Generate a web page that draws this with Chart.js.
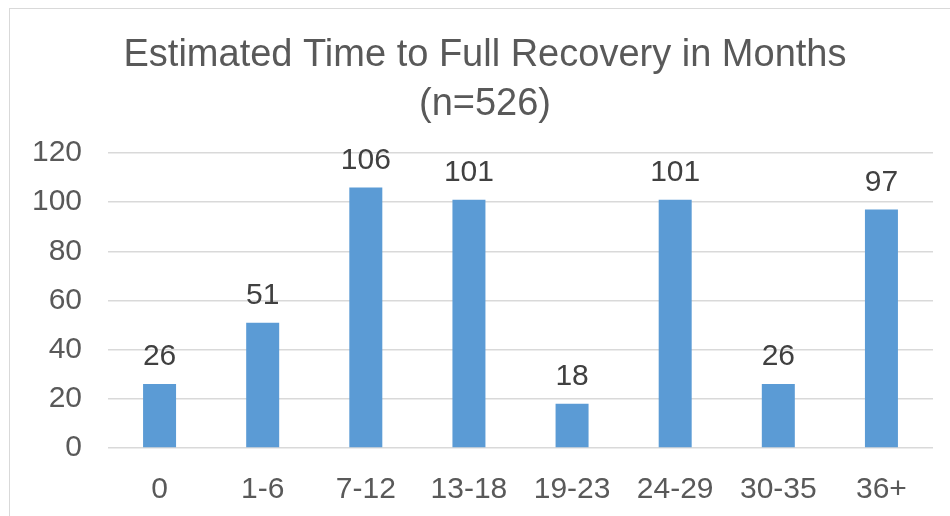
<!DOCTYPE html>
<html>
<head>
<meta charset="utf-8">
<script src="https://cdn.jsdelivr.net/npm/chart.js@4"></script>
<style>
  body { margin: 0; background: #fff; overflow: hidden; }
  #box { position: absolute; left: 9px; top: 8px; width: 950px; height: 520px; border: 1px solid #d9d9d9; }
</style>
</head>
<body>
<div id="box"><canvas id="myChart" width="950" height="520"></canvas></div>
<script>
const categories = ["0", "1-6", "7-12", "13-18", "19-23", "24-29", "30-35", "36+"];
const counts = [26, 51, 106, 101, 18, 101, 26, 97];
const titleLines = ["Estimated Time to Full Recovery in Months", "(n=526)"];

// values above the bars
const valueLabels = {
  id: "valueLabels",
  afterDatasetsDraw(chart) {
    const ctx = chart.ctx;
    const meta = chart.getDatasetMeta(0);
    ctx.save();
    ctx.font = "30px 'Liberation Sans', Arial, sans-serif";
    ctx.fillStyle = "#404040";
    ctx.textAlign = "center";
    ctx.textBaseline = "bottom";
    meta.data.forEach((bar, i) => {
      ctx.fillText(counts[i], bar.x, bar.y - 12);
    });
    ctx.restore();
  },
};

const config = {
  type: "bar",
  data: {
    labels: categories,
    datasets: [
      {
        data: counts,
        backgroundColor: "#5b9bd5",
        categoryPercentage: 1,
        barPercentage: 0.32,
      },
    ],
  },
  options: {
    responsive: false,
    animation: false,
    plugins: {
      legend: { display: false },
      tooltip: { enabled: false },
      title: {
        display: true,
        text: titleLines,
        color: "#595959",
        font: { family: "'Liberation Sans', Arial, sans-serif", size: 38, weight: "normal", lineHeight: 1.29 },
        padding: { top: 22, bottom: 24 },
      },
    },
    scales: {
      x: {
        grid: { display: false },
        border: { display: false },
        ticks: {
          color: "#595959",
          font: { family: "'Liberation Sans', Arial, sans-serif", size: 30 },
          padding: 16,
        },
        afterFit(axis) { axis.height = 81; },
      },
      y: {
        min: 0,
        max: 120,
        ticks: {
          stepSize: 20,
          color: "#595959",
          font: { family: "'Liberation Sans', Arial, sans-serif", size: 30 },
          padding: 26,
        },
        grid: { color: "#d9d9d9", lineWidth: 1.5, drawTicks: false },
        border: { display: false },
        afterFit(axis) { axis.width = 98; },
      },
      // empty right-hand axis, only keeps space free on the right
      yRight: {
        position: "right",
        min: 0,
        max: 120,
        grid: { display: false },
        border: { display: false },
        ticks: { display: false },
        afterFit(axis) { axis.width = 27; },
      },
    },
  },
  plugins: [valueLabels],
};

new Chart(document.getElementById("myChart"), config);
</script>
</body>
</html>
